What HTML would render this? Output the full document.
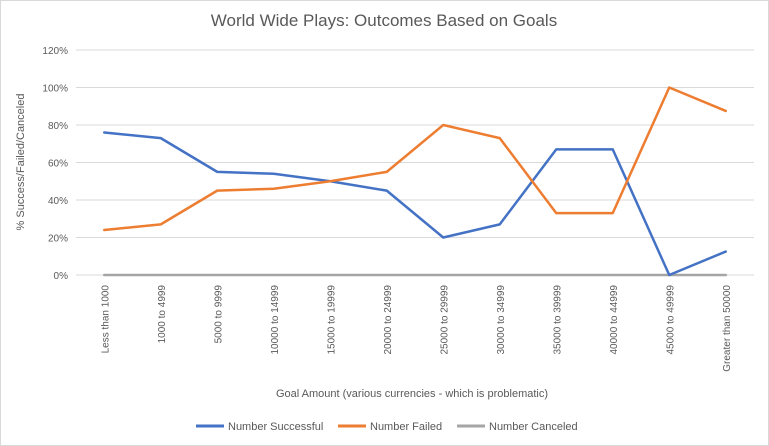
<!DOCTYPE html>
<html><head><meta charset="utf-8"><style>
body{margin:0;background:#fff;}
svg{display:block;font-family:"Liberation Sans",sans-serif;}
</style></head><body>
<svg id="chart" width="769" height="446" viewBox="0 0 769 446">
<rect x="0.5" y="0.5" width="768" height="445" fill="#fff" stroke="#d9d9d9"/>
<text x="384" y="26" text-anchor="middle" font-size="17" fill="#595959">World Wide Plays: Outcomes Based on Goals</text>
<g id="grid"></g><g id="ylabels"></g><g id="xlabels"></g><g id="series"></g>
<text transform="translate(24,162) rotate(-90)" text-anchor="middle" font-size="11" fill="#595959">% Success/Failed/Canceled</text>
<text x="412" y="397" text-anchor="middle" font-size="11" fill="#595959">Goal Amount  (various currencies - which is problematic)</text>
<g>
<g><line x1="196" y1="426" x2="224" y2="426" stroke="#4472c4" stroke-width="3"/><text x="228" y="430" font-size="11" fill="#595959">Number Successful</text></g>
<g><line x1="338" y1="426" x2="366" y2="426" stroke="#ed7d31" stroke-width="3"/><text x="370" y="430" font-size="11" fill="#595959">Number Failed</text></g>
<g><line x1="457" y1="426" x2="485" y2="426" stroke="#a5a5a5" stroke-width="3"/><text x="489" y="430" font-size="11" fill="#595959">Number Canceled</text></g>
</g>
</svg>
<script>
const categories=["Less than 1000","1000 to 4999","5000 to 9999","10000 to 14999","15000 to 19999","20000 to 24999","25000 to 29999","30000 to 34999","35000 to 39999","40000 to 44999","45000 to 49999","Greater than 50000"];
const successful=[76,73,55,54,50,45,20,27,67,67,0,12.5];
const failed=[24,27,45,46,50,55,80,73,33,33,100,87.5];
const canceled=[0,0,0,0,0,0,0,0,0,0,0,0];
const yTicks=[0,20,40,60,80,100,120];
const NS="http://www.w3.org/2000/svg";
const L=76,R=754,T=50,B=275;
const band=(R-L)/categories.length;
const xs=i=>L+band*(i+0.5);
const ys=v=>B-(v/120)*(B-T);
function mk(t,a,p){const e=document.createElementNS(NS,t);for(const k in a)e.setAttribute(k,a[k]);p.appendChild(e);return e;}
const grid=document.getElementById('grid'),yl=document.getElementById('ylabels'),xl=document.getElementById('xlabels'),sg=document.getElementById('series');
yTicks.forEach(v=>{
 const g=mk('line',{x1:L,x2:R,y1:ys(v),y2:ys(v),stroke:'#d9d9d9','stroke-width':1},grid);
 
 
 const t=mk('text',{x:L-8,y:ys(v)+4,'text-anchor':'end','font-size':10,fill:'#595959'},yl);
 t.textContent=v+'%';
 
 
});
categories.forEach((c,i)=>{
 const t=mk('text',{transform:`translate(${xs(i)+4},${B+10}) rotate(-90)`,'text-anchor':'end','font-size':10,fill:'#595959'},xl);
 t.textContent=c;
 
 
});
[[canceled,'#a5a5a5','series-canceled'],[successful,'#4472c4','series-successful'],[failed,'#ed7d31','series-failed']].forEach(([d,col,n])=>{
 const p=mk('polyline',{points:d.map((v,i)=>xs(i)+','+ys(v)).join(' '),fill:'none',stroke:col,'stroke-width':2.5,'stroke-linejoin':'round','stroke-linecap':'round'},sg);
 
 
});
</script>
</body></html>
